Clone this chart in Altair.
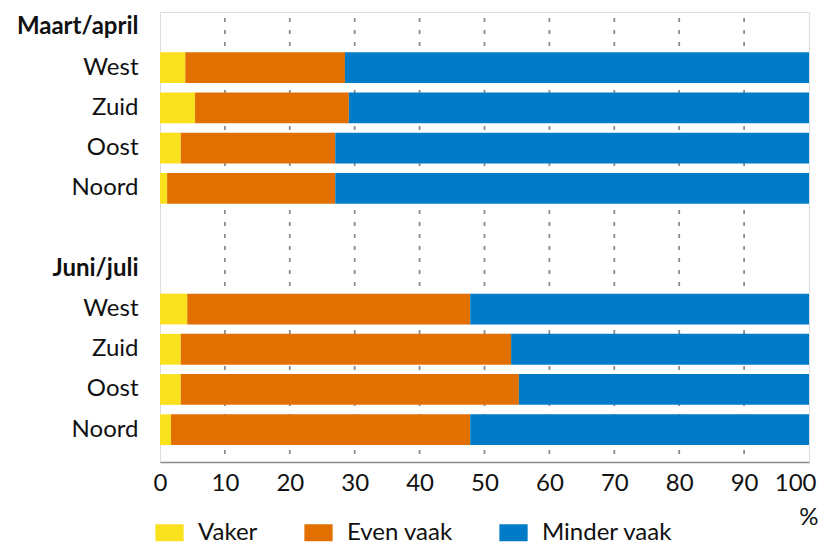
import altair as alt
import pandas as pd

periods = ["Maart/april", "Juni/juli"]
regions = ["West", "Zuid", "Oost", "Noord"]
categories = ["Vaker", "Even vaak", "Minder vaak"]
colors = ["#F9E11E", "#E17000", "#007BC7"]

vaker_ma = [3.9, 5.4, 3.2, 1.1]
even_ma = [24.6, 23.7, 23.8, 25.9]
minder_ma = [71.5, 70.9, 73.0, 73.0]

vaker_jj = [4.2, 3.2, 3.2, 1.7]
even_jj = [43.6, 50.9, 52.1, 46.1]
minder_jj = [52.2, 45.9, 44.7, 52.2]

x_ticks = [0, 10, 20, 30, 40, 50, 60, 70, 80, 90, 100]
grid_ticks = [10, 20, 30, 40, 50, 60, 70, 80, 90]

rows = []
series = {
    "Maart/april": [vaker_ma, even_ma, minder_ma],
    "Juni/juli": [vaker_jj, even_jj, minder_jj],
}
for p in periods:
    for i, r in enumerate(regions):
        for k, c in enumerate(categories):
            rows.append({"row": f"{p}|{r}", "cat": c, "order": k,
                         "value": series[p][k][i]})
df = pd.DataFrame(rows)

domain = ["Maart/april"] + [f"Maart/april|{r}" for r in regions] + [" "] + \
         ["Juni/juli"] + [f"Juni/juli|{r}" for r in regions]

FONT = "Lato"
FS = 24

bars = alt.Chart(df).mark_bar().encode(
    x=alt.X("value:Q", stack="zero",
            scale=alt.Scale(domain=[0, 100], nice=False),
            axis=alt.Axis(values=x_ticks, title="%", grid=False, ticks=False,
                          domainColor="#8c8c8c", domainWidth=1.5,
                          labelFontSize=FS, labelColor="#111", labelPadding=9,
                          labelFlush=True, labelFlushOffset=7,
                          labelFont=FONT, titleFont=FONT, titleFontSize=FS,
                          titleFontWeight="normal", titleColor="#111",
                          titleAlign="right", titleAnchor="end",
                          titleX=658, titleY=55, titleBaseline="middle")),
    y=alt.Y("row:N", sort=domain,
            scale=alt.Scale(domain=domain, paddingInner=0.235,
                            paddingOuter=0.21, align=0),
            axis=alt.Axis(title=None, domain=False, ticks=False, grid=False,
                          labelPadding=22, labelFontSize=FS, labelFont=FONT,
                          labelColor="#111",
                          labelExpr="indexof(datum.value, '|') >= 0 ? split(datum.value, '|')[1] : datum.value",
                          labelFontWeight={"condition": {"test": "indexof(datum.value, '|') < 0", "value": "bold"}, "value": "normal"},
                          minExtent=152, maxExtent=152)),
    color=alt.Color("cat:N",
                    scale=alt.Scale(domain=categories, range=colors),
                    legend=alt.Legend(title=None, orient="none", direction="horizontal",
                                      legendX=-5, legendY=506,
                                      symbolType="M-1,-0.6H1V0.6H-1Z",
                                      symbolSize=800, symbolStrokeWidth=0,
                                      labelFontSize=FS, labelFont=FONT,
                                      labelColor="#111", labelOffset=14,
                                      columnPadding=46)),
    order=alt.Order("order:Q"),
)

grid = alt.Chart(pd.DataFrame({"t": grid_ticks})).mark_rule(
    color="#8c8c8c", strokeWidth=1.8, strokeDash=[4, 8]
).encode(
    x=alt.X("t:Q"),
    y=alt.value(6),
    y2=alt.value(450),
)

chart = alt.layer(grid, bars).properties(
    width=649, height=450,
    autosize=alt.AutoSizeParams(type="none"),
    padding={"left": 152, "top": 4, "right": 10, "bottom": 87},
).configure_view(stroke=None).configure(font=FONT)

chart.save("out.html", embed_options={"renderer": "svg", "actions": False})
